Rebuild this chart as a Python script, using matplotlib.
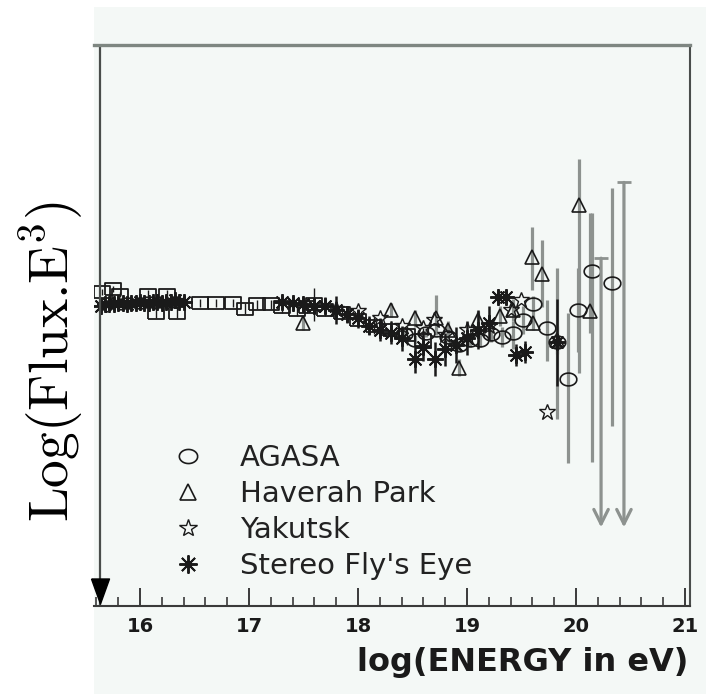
import numpy as np
import matplotlib.pyplot as plt
from matplotlib.patches import Rectangle

# ---- data (log10 E in eV, log10 flux*E^3 in arbitrary units) ----
agasa_e = [18.42, 18.52, 18.62, 18.72, 18.83, 18.93, 19.03, 19.12, 19.22, 19.32,
           19.42, 19.51, 19.61, 19.73, 19.83, 19.93, 20.02, 20.15, 20.33]
agasa_f = [24.24, 24.20, 24.25, 24.27, 24.22, 24.16, 24.20, 24.20, 24.24, 24.22,
           24.25, 24.34, 24.45, 24.28, 24.18, 23.92, 24.41, 24.69, 24.60]
agasa_dn = [0.03, 0.03, 0.03, 0.04, 0.04, 0.04, 0.05, 0.05, 0.06, 0.07,
            0.12, 0.10, 0.12, 0.23, 0.55, 0.60, 0.30, 1.36, 1.02]
agasa_up = [0.03, 0.03, 0.03, 0.04, 0.04, 0.04, 0.05, 0.05, 0.06, 0.07,
            0.08, 0.10, 0.06, 0.20, 0.53, 0.47, 0.30, 0.41, 0.68]
agasa_lim_e = [20.23, 20.44]
agasa_lim_top = [24.78, 25.32]
agasa_lim_tip = [22.86, 22.86]

hp_e = [17.50, 18.30, 18.52, 18.72, 18.83, 18.93, 19.10, 19.30, 19.42,
        19.60, 19.61, 19.69, 19.83, 20.03, 20.13]
hp_f = [24.32, 24.41, 24.35, 24.35, 24.27, 24.00, 24.34, 24.37, 24.41,
        24.79, 24.32, 24.67, 24.20, 25.16, 24.40]
hp_dn = [0.05, 0.05, 0.06, 0.03, 0.06, 0.06, 0.06, 0.07, 0.08,
         0.24, 0.05, 0.24, 0.10, 1.20, 0.15]
hp_up = [0.05, 0.05, 0.06, 0.17, 0.06, 0.06, 0.06, 0.07, 0.08,
         0.21, 0.05, 0.24, 0.10, 0.33, 0.70]

yak_e = [17.80, 18.00, 18.20, 18.40, 18.60, 18.70, 18.80, 19.00, 19.20,
         19.40, 19.50, 19.73]
yak_f = [24.42, 24.40, 24.35, 24.30, 24.28, 24.34, 24.23, 24.27, 24.30,
         24.41, 24.48, 23.68]

fe_e = [15.64, 15.68, 15.72, 15.76, 15.80, 15.84, 15.88, 15.92, 15.96, 16.00,
        16.04, 16.08, 16.12, 16.16, 16.20, 16.24, 16.28, 16.32, 16.36, 16.40,
        17.30, 17.40, 17.50, 17.60, 17.70, 17.80, 17.90, 18.00, 18.10, 18.20,
        18.30, 18.40, 18.52, 18.60, 18.71, 18.80, 18.90, 19.00, 19.10, 19.20,
        19.28, 19.36, 19.45, 19.53, 19.83]
fe_f = [24.44, 24.45, 24.45, 24.45, 24.46, 24.46, 24.45, 24.46, 24.46, 24.47,
        24.46, 24.46, 24.47, 24.47, 24.46, 24.47, 24.47, 24.48, 24.47, 24.47,
        24.47, 24.46, 24.45, 24.44, 24.44, 24.41, 24.38, 24.35, 24.30, 24.27,
        24.25, 24.21, 24.06, 24.15, 24.06, 24.13, 24.16, 24.21, 24.27, 24.32,
        24.50, 24.50, 24.09, 24.11, 24.18]
fe_err = [0.04, 0.04, 0.04, 0.04, 0.04, 0.04, 0.04, 0.04, 0.04, 0.04,
          0.04, 0.04, 0.04, 0.04, 0.04, 0.04, 0.04, 0.04, 0.04, 0.04,
          0.05, 0.05, 0.05, 0.05, 0.06, 0.10, 0.06, 0.07, 0.07, 0.08,
          0.08, 0.09, 0.10, 0.10, 0.12, 0.12, 0.13, 0.12, 0.14, 0.12,
          0.05, 0.05, 0.08, 0.08, 0.31]

# unlabelled low-energy set (squares)
sq_e = [15.65, 15.75, 15.82, 16.07, 16.15, 16.25, 16.34, 16.55, 16.70, 16.85,
        16.96, 17.07, 17.20, 17.30, 17.44, 17.53, 17.60, 17.70, 17.85, 18.00,
        18.15, 18.30, 18.45, 18.60]
sq_f = [24.54, 24.56, 24.52, 24.52, 24.39, 24.52, 24.39, 24.46, 24.46, 24.46,
        24.42, 24.45, 24.45, 24.43, 24.41, 24.43, 24.45, 24.41, 24.39, 24.34,
        24.30, 24.27, 24.23, 24.20]
sq_err = [0.02, 0.02, 0.02, 0.03, 0.04, 0.03, 0.04, 0.03, 0.03, 0.03,
          0.04, 0.03, 0.03, 0.04, 0.04, 0.04, 0.12, 0.04, 0.05, 0.05,
          0.06, 0.06, 0.07, 0.08]

labels = ["AGASA", "Haverah Park", "Yakutsk", "Stereo Fly's Eye"]
xticks = [16, 17, 18, 19, 20, 21]

XMIN, XMAX = 15.578, 21.046
YMIN, YMAX = 22.3, 26.3
AXIS_E = 15.633

bg = '#f4f8f6'
grey = '#8d928f'
ink = '#1a1a1a'

plt.rcParams['mathtext.fontset'] = 'cm'

fig = plt.figure(figsize=(7.06, 6.94), dpi=100)
fig.patch.set_facecolor('white')
fig.patches.append(Rectangle((94/706, 0), 1, 1 - 7/694, transform=fig.transFigure,
                             facecolor=bg, edgecolor='none', zorder=-10))
ax = fig.add_axes([94/706, 1 - 606/694, 596/706, 561/694])
ax.set_facecolor(bg)

t = np.linspace(0, 2*np.pi, 40)
ellipse = np.column_stack([1.3*np.cos(t), np.sin(t)])
rect = [(-1.3, -1), (1.3, -1), (1.3, 1), (-1.3, 1), (-1.3, -1)]
asterisk = (8, 2, 0)

# error bars
ax.errorbar(agasa_e, agasa_f, yerr=[agasa_dn, agasa_up], fmt='none',
            ecolor=grey, elinewidth=2.3, capsize=0)
ax.errorbar(hp_e, hp_f, yerr=[hp_dn, hp_up], fmt='none',
            ecolor=grey, elinewidth=2.3, capsize=0)
ax.errorbar(fe_e, fe_f, yerr=fe_err, fmt='none', ecolor=ink, elinewidth=1.8, capsize=0)
ax.errorbar(sq_e, sq_f, yerr=sq_err, fmt='none', ecolor=ink, elinewidth=1.0, capsize=0)

# AGASA upper limits
for e, top, tip in zip(agasa_lim_e, agasa_lim_top, agasa_lim_tip):
    ax.annotate('', xy=(e, tip), xytext=(e, top),
                arrowprops=dict(arrowstyle='->', color=grey, lw=2.3,
                                mutation_scale=26, shrinkA=0, shrinkB=0))
ax.plot(agasa_lim_e, agasa_lim_top, ls='none', marker='_', ms=10, mew=2.0, color=grey)

# markers
ax.plot(sq_e, sq_f, ls='none', marker=rect, ms=11, mfc='none', mec=ink, mew=1.3)
ax.plot(fe_e, fe_f, ls='none', marker=asterisk, ms=12, mec=ink, mew=1.4, label=labels[3])
ax.plot(agasa_e, agasa_f, ls='none', marker=ellipse, ms=12, mfc='none', mec=ink, mew=1.2,
        label=labels[0])
ax.plot(hp_e, hp_f, ls='none', marker='^', ms=10, mfc='none', mec=ink, mew=1.2,
        label=labels[1])
ax.plot(yak_e, yak_f, ls='none', marker='*', ms=12, mfc='none', mec=ink, mew=1.0,
        label=labels[2])

# left axis line with arrow
ax.axvline(AXIS_E, color='#4a4d4b', lw=1.6)
ax.plot([AXIS_E], [YMIN + 15.5/140.25], ls='none',
        marker=[(-0.72, 1), (0.72, 1), (0, -1), (-0.72, 1)], ms=18, color='black',
        clip_on=False)

ax.set_xlim(XMIN, XMAX)
ax.set_ylim(YMIN, YMAX)

ax.spines['left'].set_visible(False)
ax.spines['top'].set_color('#7e8681')
ax.spines['top'].set_linewidth(2.4)
ax.spines['right'].set_color('#4a4d4b')
ax.spines['right'].set_linewidth(1.5)
ax.spines['bottom'].set_color('#3a3a3a')
ax.spines['bottom'].set_linewidth(1.5)

ax.set_xticks(xticks)
ax.set_xticklabels([str(v) for v in xticks], fontsize=14, fontweight='bold',
                   color=ink)
ax.set_xticks(np.arange(15.6, 21.0, 0.2), minor=True)
ax.tick_params(axis='x', which='major', direction='in', length=13, width=1.4,
               color='#3a3a3a', pad=8)
ax.tick_params(axis='x', which='minor', direction='in', length=6.5, width=1.2,
               color='#3a3a3a')
ax.set_yticks([])

fig.text(688/706, 1 - 663/694, 'log(ENERGY in eV)', ha='right', va='center',
         fontsize=23, fontweight='bold', color=ink)

fig.text(52/706, 1 - 362/694, 'Log(Flux.E$^{3}$)', rotation=90,
         ha='center', va='center', fontsize=40, color='black',
         family=['cmr10', 'DejaVu Serif'])

handles, labs = ax.get_legend_handles_labels()
order = [labs.index(l) for l in labels]
leg = ax.legend([handles[i] for i in order], [labs[i] for i in order],
                loc='upper left', bbox_to_anchor=((173 - 94)/596, (606 - 444)/561),
                frameon=False, fontsize=21, handlelength=1.0, handletextpad=1.3,
                labelspacing=0.28, borderpad=0, borderaxespad=0, markerscale=1.1)
for txt in leg.get_texts():
    txt.set_color('#222222')

fig.savefig('out.png', dpi=100, facecolor=fig.get_facecolor())
